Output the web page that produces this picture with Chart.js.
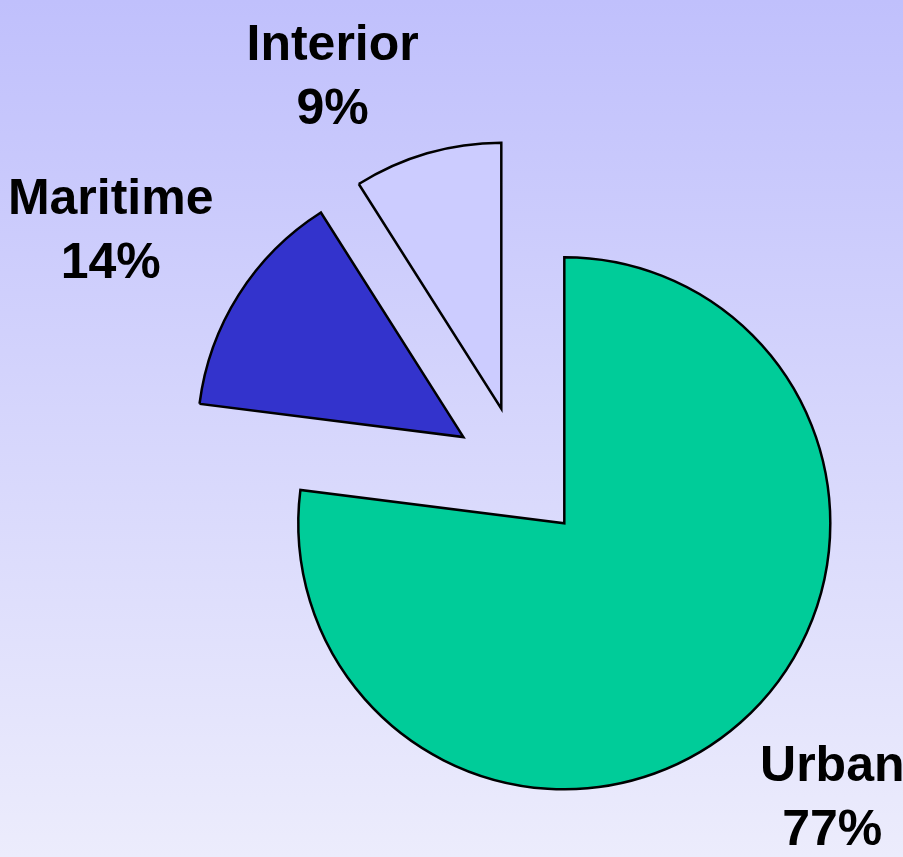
<!DOCTYPE html>
<html>
<head>
<meta charset="utf-8">
<script src="https://cdn.jsdelivr.net/npm/chart.js@4"></script>
<style>
  html, body { margin: 0; padding: 0; }
  body { width: 903px; height: 857px; overflow: hidden; background: linear-gradient(to bottom, #c0c0fc, #ececfc); }
  #wrap { position: relative; width: 903px; height: 857px; }
</style>
</head>
<body>
<div id="wrap"><canvas id="regionChart" width="903" height="857"></canvas></div>
<script>
const regions = ['Urban', 'Maritime', 'Interior'];
const shares = [77, 14, 9];
const sliceColors = ['#00cc99', '#3333cc', '#ccccff'];

const EXPLODE = 67;
const LABEL_FONT = 'bold 50px "Liberation Sans", Arial, sans-serif';

function sliceDir(arc) {
  const mid = (arc.startAngle + arc.endAngle) / 2;
  return { dx: Math.cos(mid), dy: Math.sin(mid) };
}

// pull every slice out from the centre along its middle angle
const explodedSlices = {
  id: 'explodedSlices',
  beforeDatasetDraw(chart, args) {
    const ctx = chart.ctx;
    args.meta.data.forEach(arc => {
      const d = sliceDir(arc);
      ctx.save();
      ctx.translate(d.dx * EXPLODE, d.dy * EXPLODE);
      arc.draw(ctx);
      ctx.restore();
    });
    return false;
  }
};

// category name and percentage outside each slice
const sliceLabels = {
  id: 'sliceLabels',
  afterDatasetsDraw(chart) {
    const ctx = chart.ctx;
    const meta = chart.getDatasetMeta(0);
    const total = shares.reduce((a, b) => a + b, 0);
    const gap = 30, lineH = 64, capH = 36;
    ctx.save();
    ctx.font = LABEL_FONT;
    ctx.fillStyle = '#000';
    ctx.textAlign = 'center';
    ctx.textBaseline = 'alphabetic';
    meta.data.forEach((arc, i) => {
      const d = sliceDir(arc);
      const r = EXPLODE + arc.outerRadius + gap;
      const px = arc.x + d.dx * r;
      const py = arc.y + d.dy * r;
      const lines = [regions[i], Math.round(shares[i] / total * 100) + '%'];
      const w = Math.max(...lines.map(t => ctx.measureText(t).width));
      const cx = d.dx < 0 ? px - w / 2 : px + w / 2;
      const base = d.dy < 0 ? py - lineH : py + capH;
      lines.forEach((t, k) => ctx.fillText(t, cx, base + k * lineH));
    });
    ctx.restore();
  }
};

new Chart(document.getElementById('regionChart'), {
  type: 'pie',
  data: {
    labels: regions,
    datasets: [{
      data: shares,
      backgroundColor: sliceColors,
      borderColor: '#000',
      borderWidth: 2.5,
      borderJoinStyle: 'miter',
      radius: 266
    }]
  },
  options: {
    responsive: false,
    animation: false,
    events: [],
    layout: { padding: { left: 137, top: 89, right: 0, bottom: 0 } },
    plugins: {
      legend: { display: false },
      tooltip: { enabled: false }
    }
  },
  plugins: [explodedSlices, sliceLabels]
});
</script>
</body>
</html>
